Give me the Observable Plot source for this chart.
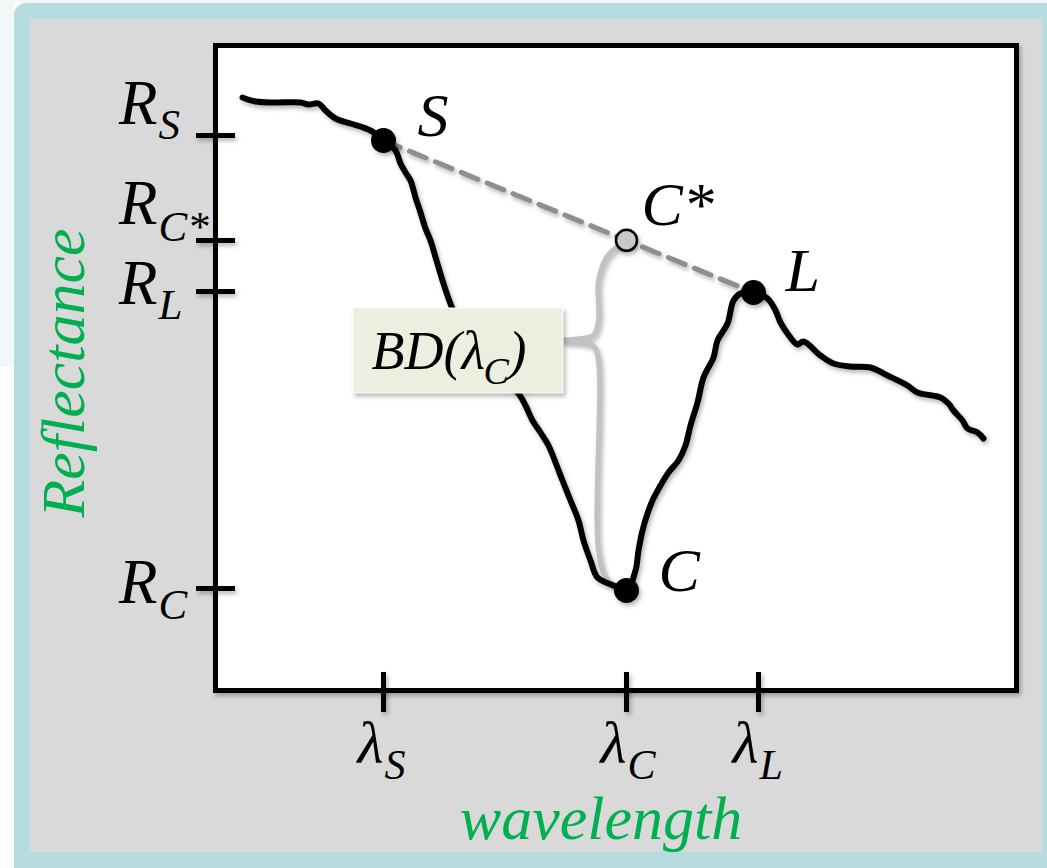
<!DOCTYPE html>
<html>
<head>
<meta charset="utf-8">
<script src="https://cdn.jsdelivr.net/npm/d3@7"></script>
<script src="https://cdn.jsdelivr.net/npm/@observablehq/plot@0.6"></script>
<style>
  body { margin: 0; background: #ffffff; }
  #wrap { position: relative; width: 1047px; height: 868px; overflow: hidden; }
  .bg { position: absolute; }
  #chart { position: absolute; left: 0; top: 0; }
  #chart [aria-label="frame"], #chart g[aria-label="rule"], #chart g[aria-label="line"],
  #chart g[aria-label="dot"], #chart g[aria-label="rect"] {
    filter: drop-shadow(2px 3px 2px rgba(0,0,0,0.28));
  }
</style>
</head>
<body>
<div id="wrap">
  <div class="bg" style="left:0;top:0;width:1047px;height:3px;background:#f0f8f8"></div>
  <div class="bg" style="left:0;top:0;width:14px;height:367px;background:#f0f8f8"></div>
  <div class="bg" style="left:14px;top:3px;width:1050px;height:880px;background:#b7dcdf;border-radius:12px"></div>
  <div class="bg" style="left:30px;top:19px;width:1012px;height:833px;background:#d9d9d9"></div>
  <div id="chart"></div>
</div>
<script>
// ---- data (arbitrary wavelength / reflectance units) ----
const wavelength = [5.4, 8, 12, 17, 18.6, 20.6, 22, 24, 27, 31,
  33.6, 36, 37, 38, 39, 40, 41, 42, 43, 44.2,
  45.4, 46.6, 48, 51, 56, 60.6, 62, 63.4, 65, 66.6,
  68, 69.4, 71, 72.6, 73.6, 75, 76.4, 79.6, 82.2, 84,
  84.6, 85.4, 86.4, 87.4, 89, 90.6, 92.6, 94, 95, 96.4,
  97.6, 99.6, 100.4, 102.4, 103.6, 105, 107.6, 110.4, 112, 113,
  114.4, 116.4, 117.6, 121, 123.6, 127, 131, 134.4, 138.4, 140.4,
  145, 146.6, 147.6, 149.4, 150.4, 152.4, 153.6];
const reflectance = [118.6, 117.8, 117.6, 117.6, 117.2, 117.4, 116, 114.4, 113.4, 112,
  110, 108, 105.4, 103.6, 102, 98.6, 95.6, 92.4, 90, 86,
  82, 78.4, 75, 70, 64, 59.4, 57, 54, 51.6, 49,
  45.6, 42, 38, 34, 30, 26, 22.6, 21, 20, 24,
  28, 32, 35.4, 38, 41, 43.6, 46, 49, 53, 57.6,
  62.6, 66.6, 70, 73.4, 78, 79.4, 79.6, 78.4, 76, 73.6,
  71.4, 69.2, 69.8, 67, 65.4, 64.8, 64.6, 63, 61, 59.6,
  58.6, 57.4, 56, 54, 52.4, 51.6, 50.4];

const pointNames = ["S", "L", "C"];
const pointWl = [33.6, 107.6, 82.2];
const pointRefl = [110, 79.6, 20];

const xTickWl = [33.6, 82.2, 108.6];
const xTickSub = ["S", "C", "L"];
const yTickRefl = [111, 90, 79.8, 20.4];
const yTickSub = ["S", "C*", "L", "C"];

const xTitle = "wavelength";
const yTitle = "Reflectance";
const bdText = "BD(λ";
const bdSub = "C";

// ---- derived ----
const spectrum = wavelength.map((w, i) => ({w, r: reflectance[i]}));
const pts = pointNames.map((n, i) => ({n, w: pointWl[i], r: pointRefl[i]}));
const S = pts[0], L = pts[1], C = pts[2];
const cStar = {n: "C*", w: C.w, r: S.r + (C.w - S.w) / (L.w - S.w) * (L.r - S.r)};
const continuum = [S, L];
const xTicks = xTickWl.map((w, i) => ({w, sub: xTickSub[i]}));
const yTicks = yTickRefl.map((r, i) => ({r, sub: yTickSub[i]}));

// ---- layout (styling offsets) ----
const yMainDy = {"S": -12, "C*": -17, "L": 12, "C": 14};
const ySubDy = {"S": 3, "C*": 0, "L": 27, "C": 30};
const ptLabelOff = {"S": [34, -5], "C*": [15, -15], "L": [32, -2], "C": [32, 0]};

const tip = {w: C.w - 12.6, r: 70};
const braceX = C.w - 5.6;
const brace = [
  {w: cStar.w, r: cStar.r},
  {w: C.w - 3.7, r: cStar.r - 3},
  {w: braceX, r: cStar.r - 8},
  {w: braceX, r: tip.r + 4},
  {w: C.w - 6.7, r: tip.r + 1},
  {w: tip.w, r: tip.r},
  {w: C.w - 6.7, r: tip.r - 1},
  {w: braceX, r: tip.r - 4},
  {w: braceX, r: C.r + 8},
  {w: C.w - 3.7, r: C.r + 2},
  {w: C.w, r: C.r}
];
const box = [{x1: tip.w - 42, x2: tip.w, y1: tip.r - 10.6, y2: tip.r + 6.4}];

const serif = "Liberation Serif, Times New Roman, serif";
const green = "#00b050";

const T = (data, o) => Plot.text(data, {fontFamily: serif, fontStyle: "italic", fill: "black",
  lineAnchor: "bottom", ...o});

const chart = Plot.plot({
  width: 1047,
  height: 868,
  marginLeft: 215,
  marginRight: 31,
  marginTop: 45,
  marginBottom: 178,
  style: {background: "transparent", overflow: "visible"},
  x: {domain: [0, 160.2], axis: null},
  y: {domain: [0, 129], axis: null},
  marks: [
    Plot.frame({fill: "white", stroke: "black", strokeWidth: 5}),
    Plot.ruleX(xTicks, {x: "w", y1: 0, y2: 0, insetTop: -18, insetBottom: -22, stroke: "black", strokeWidth: 5}),
    Plot.ruleY(yTicks, {y: "r", x1: 0, x2: 0, insetLeft: -19, insetRight: -20, stroke: "black", strokeWidth: 5}),
    Plot.line(continuum, {x: "w", y: "r", stroke: "#8e8e8e", strokeWidth: 5, strokeDasharray: "18,10"}),
    Plot.line(brace, {x: "w", y: "r", curve: "catmull-rom", stroke: "#c2c2c2", strokeWidth: 5}),
    Plot.line(spectrum, {x: "w", y: "r", stroke: "black", strokeWidth: 6, strokeLinejoin: "round", strokeLinecap: "round", curve: "catmull-rom"}),
    Plot.rect(box, {x1: "x1", x2: "x2", y1: "y1", y2: "y2", fill: "#ebefdf", stroke: "#ffffff", strokeWidth: 1}),
    T([bdText], {x: box[0].x1, y: tip.r, text: d => d, dx: 18, dy: 28, fontSize: 54, textAnchor: "start"}),
    T([bdSub], {x: box[0].x1, y: tip.r, text: d => d, dx: 130, dy: 43, fontSize: 38, textAnchor: "start"}),
    T([")"], {x: box[0].x1, y: tip.r, text: d => d, dx: 155, dy: 28, fontSize: 54, textAnchor: "start"}),
    Plot.dot(pts, {x: "w", y: "r", r: 12.5, fill: "black"}),
    Plot.dot([cStar], {x: "w", y: "r", r: 10.5, fill: "#c8c8c8", stroke: "black", strokeWidth: 2.5}),
    // point labels
    ...[...pts, cStar].map(p => T([p], {x: "w", y: "r", text: "n", fontSize: 62, textAnchor: "start",
      dx: ptLabelOff[p.n][0], dy: ptLabelOff[p.n][1]})),
    // y tick labels
    ...yTicks.map(t => T([t], {x: 0, y: "r", text: () => "R", fontSize: 63, textAnchor: "end", dx: -58, dy: yMainDy[t.sub]})),
    ...yTicks.map(t => T([t], {x: 0, y: "r", text: "sub", fontSize: 43, textAnchor: "start", dx: -57, dy: ySubDy[t.sub]})),
    // x tick labels
    T(xTicks, {x: "w", y: 0, text: () => "λ", fontSize: 60, textAnchor: "end", dx: 0, dy: 72}),
    T(xTicks, {x: "w", y: 0, text: "sub", fontSize: 42, textAnchor: "start", dx: 1, dy: 88}),
    // axis titles
    T([xTitle], {frameAnchor: "bottom", text: d => d, fontSize: 62, fill: green, textAnchor: "middle", dx: -15, dy: 148}),
    T([yTitle], {frameAnchor: "left", text: d => d, fontSize: 62, fill: green, textAnchor: "middle", rotate: -90, dx: -132, dy: 5})
  ]
});
document.getElementById("chart").appendChild(chart);
</script>
</body>
</html>
